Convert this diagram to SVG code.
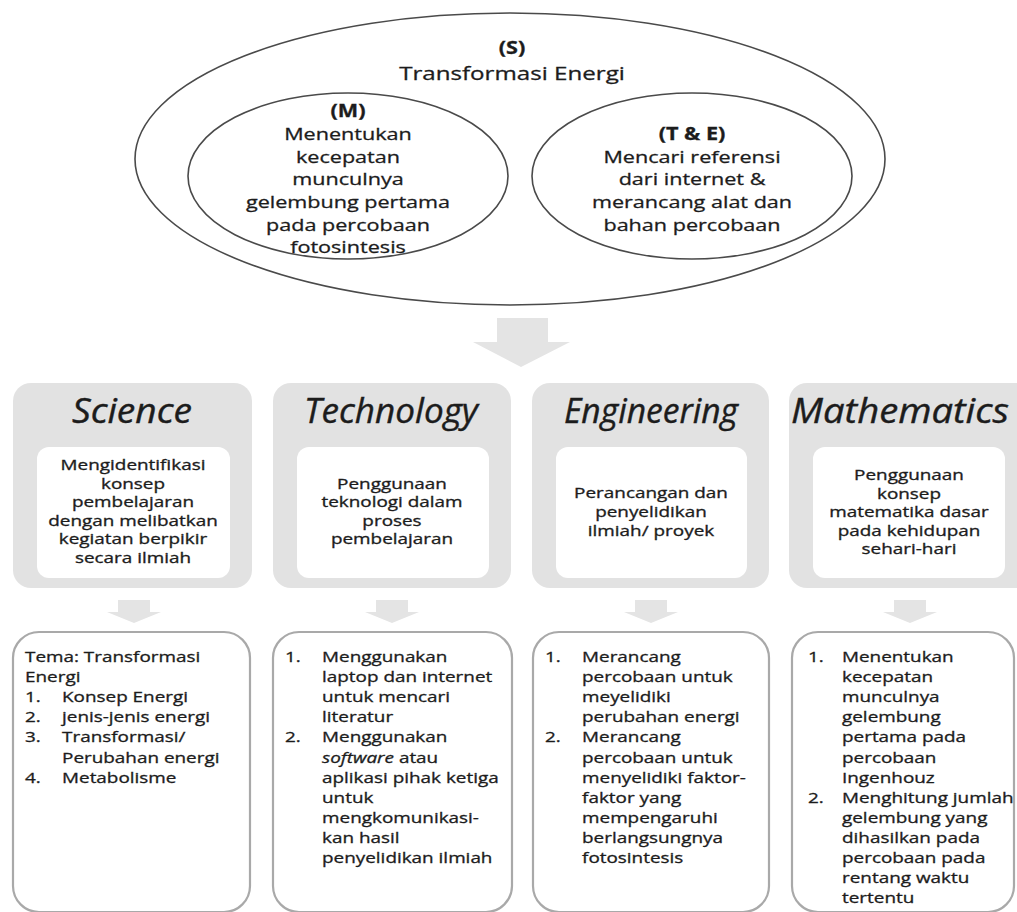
<svg xmlns="http://www.w3.org/2000/svg" width="1017" height="912" viewBox="0 0 1017 912">
  <defs>
    <style>
      .t { font-family: "Open Sans", "Liberation Sans", sans-serif; fill: #1c1c1c; stroke: #1c1c1c; stroke-width: 0.3; }
      .c { text-anchor: middle; }
      .b { font-weight: bold; }
      .top { font-size: 17px; }
      .big { font-size: 19px; }
      .head { font-size: 34px; font-style: italic; stroke-width: 0.4; }
      .in { font-size: 14px; }
      .li { font-size: 15px; }
      .ring { fill: none; stroke: #4a4a4a; stroke-width: 1.6; }
      .panel { fill: #e2e2e2; }
      .card { fill: #ffffff; }
      .list { fill: #ffffff; stroke: #a9a9a9; stroke-width: 2.2; }
      .arrow { fill: #e4e4e4; }
    </style>
  </defs>

  <rect width="1017" height="912" fill="#ffffff"/>

  <!-- Venn of the STEM focus -->
  <g id="node-s">
    <ellipse class="ring" cx="510" cy="159" rx="375" ry="146"/>
    <g transform="translate(512,0) scale(1.27,1)">
      <text class="t top b c" x="0" y="54">(S)</text>
      <text class="t big c" x="0" y="80">Transformasi Energi</text>
    </g>
  </g>

  <g id="node-m">
    <ellipse class="ring" cx="348" cy="176" rx="160" ry="83"/>
    <g transform="translate(348,0) scale(1.27,1)">
      <text class="t top b c" x="0" y="117">(M)</text>
      <text class="t top c" x="0" y="140">Menentukan</text>
      <text class="t top c" x="0" y="163">kecepatan</text>
      <text class="t top c" x="0" y="185">munculnya</text>
      <text class="t top c" x="0" y="208">gelembung pertama</text>
      <text class="t top c" x="0" y="231">pada percobaan</text>
      <text class="t top c" x="0" y="253">fotosintesis</text>
    </g>
  </g>

  <g id="node-te">
    <ellipse class="ring" cx="692" cy="176" rx="160" ry="83"/>
    <g transform="translate(692,0) scale(1.27,1)">
      <text class="t top b c" x="0" y="140">(T &amp; E)</text>
      <text class="t top c" x="0" y="163">Mencari referensi</text>
      <text class="t top c" x="0" y="185">dari internet &amp;</text>
      <text class="t top c" x="0" y="208">merancang alat dan</text>
      <text class="t top c" x="0" y="231">bahan percobaan</text>
    </g>
  </g>

  <!-- block arrows -->
  <g id="connectors">
    <polygon class="arrow" points="497,318 548,318 548,342 570,342 521,367 473,342 497,342"/>
    <polygon class="arrow" points="118,600 150,600 150,612 161,612 134,623 107,612 118,612"/>
    <polygon class="arrow" points="376,600 408,600 408,612 419,612 392,623 365,612 376,612"/>
    <polygon class="arrow" points="635,600 667,600 667,612 678,612 651,623 624,612 635,612"/>
    <polygon class="arrow" points="894,600 926,600 926,612 937,612 910,623 883,612 894,612"/>
  </g>

  <!-- Science -->
  <g id="node-science">
    <rect class="panel" x="13" y="383" width="239" height="205" rx="18"/>
    <text class="t head c" x="132" y="423" textLength="120" lengthAdjust="spacingAndGlyphs">Science</text>
    <rect class="card" x="37" y="447" width="193" height="131" rx="12"/>
    <g transform="translate(133,0) scale(1.35,1)">
      <text class="t in c" x="0" y="470">Mengidentifikasi</text>
      <text class="t in c" x="0" y="488.6">konsep</text>
      <text class="t in c" x="0" y="507.2">pembelajaran</text>
      <text class="t in c" x="0" y="525.8">dengan melibatkan</text>
      <text class="t in c" x="0" y="544.4">kegiatan berpikir</text>
      <text class="t in c" x="0" y="563">secara ilmiah</text>
    </g>
  </g>

  <!-- Technology -->
  <g id="node-technology">
    <rect class="panel" x="273" y="383" width="238" height="205" rx="18"/>
    <text class="t head c" x="391" y="423" textLength="174" lengthAdjust="spacingAndGlyphs">Technology</text>
    <rect class="card" x="297" y="447" width="192" height="131" rx="12"/>
    <g transform="translate(392,0) scale(1.35,1)">
      <text class="t in c" x="0" y="489">Penggunaan</text>
      <text class="t in c" x="0" y="507.5">teknologi dalam</text>
      <text class="t in c" x="0" y="526">proses</text>
      <text class="t in c" x="0" y="544.5">pembelajaran</text>
    </g>
  </g>

  <!-- Engineering -->
  <g id="node-engineering">
    <rect class="panel" x="532" y="383" width="237" height="205" rx="18"/>
    <text class="t head c" x="651" y="423" textLength="174" lengthAdjust="spacingAndGlyphs">Engineering</text>
    <rect class="card" x="556" y="447" width="191" height="131" rx="12"/>
    <g transform="translate(651,0) scale(1.35,1)">
      <text class="t in c" x="0" y="498">Perancangan dan</text>
      <text class="t in c" x="0" y="517">penyelidikan</text>
      <text class="t in c" x="0" y="536">ilmiah/ proyek</text>
    </g>
  </g>

  <!-- Mathematics -->
  <g id="node-mathematics">
    <rect class="panel" x="789" y="383" width="245" height="205" rx="18"/>
    <text class="t head c" x="900" y="423" textLength="218" lengthAdjust="spacingAndGlyphs">Mathematics</text>
    <rect class="card" x="813" y="447" width="192" height="131" rx="12"/>
    <g transform="translate(909,0) scale(1.35,1)">
      <text class="t in c" x="0" y="480">Penggunaan</text>
      <text class="t in c" x="0" y="498.6">konsep</text>
      <text class="t in c" x="0" y="517.2">matematika dasar</text>
      <text class="t in c" x="0" y="535.8">pada kehidupan</text>
      <text class="t in c" x="0" y="554.4">sehari-hari</text>
    </g>
  </g>

  <!-- detail lists -->
  <g id="node-science-list">
    <rect class="list" x="13" y="632" width="237" height="280" rx="26"/>
    <g transform="translate(25,0) scale(1.26,1)">
      <text class="t li" x="0" y="662">Tema: Transformasi</text>
      <text class="t li" x="0" y="682">Energi</text>
      <text class="t li" x="0" y="702">1.</text><text class="t li" x="29.4" y="702">Konsep Energi</text>
      <text class="t li" x="0" y="722">2.</text><text class="t li" x="29.4" y="722">jenis-jenis energi</text>
      <text class="t li" x="0" y="742">3.</text><text class="t li" x="29.4" y="742">Transformasi/</text>
      <text class="t li" x="29.4" y="763">Perubahan energi</text>
      <text class="t li" x="0" y="783">4.</text><text class="t li" x="29.4" y="783">Metabolisme</text>
    </g>
  </g>

  <g id="node-technology-list">
    <rect class="list" x="273" y="632" width="239" height="280" rx="26"/>
    <g transform="translate(285,0) scale(1.26,1)">
      <text class="t li" x="0" y="662">1.</text><text class="t li" x="29.4" y="662">Menggunakan</text>
      <text class="t li" x="29.4" y="682">laptop dan internet</text>
      <text class="t li" x="29.4" y="702">untuk mencari</text>
      <text class="t li" x="29.4" y="722">literatur</text>
      <text class="t li" x="0" y="742">2.</text><text class="t li" x="29.4" y="742">Menggunakan</text>
      <text class="t li" x="29.4" y="763"><tspan font-style="italic">software</tspan> atau</text>
      <text class="t li" x="29.4" y="783">aplikasi pihak ketiga</text>
      <text class="t li" x="29.4" y="803">untuk</text>
      <text class="t li" x="29.4" y="823">mengkomunikasi-</text>
      <text class="t li" x="29.4" y="843">kan hasil</text>
      <text class="t li" x="29.4" y="863">penyelidikan ilmiah</text>
    </g>
  </g>

  <g id="node-engineering-list">
    <rect class="list" x="533" y="632" width="236" height="280" rx="26"/>
    <g transform="translate(545,0) scale(1.26,1)">
      <text class="t li" x="0" y="662">1.</text><text class="t li" x="29.4" y="662">Merancang</text>
      <text class="t li" x="29.4" y="682">percobaan untuk</text>
      <text class="t li" x="29.4" y="702">meyelidiki</text>
      <text class="t li" x="29.4" y="722">perubahan energi</text>
      <text class="t li" x="0" y="742">2.</text><text class="t li" x="29.4" y="742">Merancang</text>
      <text class="t li" x="29.4" y="763">percobaan untuk</text>
      <text class="t li" x="29.4" y="783">menyelidiki faktor-</text>
      <text class="t li" x="29.4" y="803">faktor yang</text>
      <text class="t li" x="29.4" y="823">mempengaruhi</text>
      <text class="t li" x="29.4" y="843">berlangsungnya</text>
      <text class="t li" x="29.4" y="863">fotosintesis</text>
    </g>
  </g>

  <g id="node-mathematics-list">
    <rect class="list" x="792" y="632" width="222" height="280" rx="26"/>
    <g transform="translate(808,0) scale(1.26,1)">
      <text class="t li" x="0" y="662">1.</text><text class="t li" x="27" y="662">Menentukan</text>
      <text class="t li" x="27" y="682">kecepatan</text>
      <text class="t li" x="27" y="702">munculnya</text>
      <text class="t li" x="27" y="722">gelembung</text>
      <text class="t li" x="27" y="742">pertama pada</text>
      <text class="t li" x="27" y="763">percobaan</text>
      <text class="t li" x="27" y="783">Ingenhouz</text>
      <text class="t li" x="0" y="803">2.</text><text class="t li" x="27" y="803">Menghitung jumlah</text>
      <text class="t li" x="27" y="823">gelembung yang</text>
      <text class="t li" x="27" y="843">dihasilkan pada</text>
      <text class="t li" x="27" y="863">percobaan pada</text>
      <text class="t li" x="27" y="883">rentang waktu</text>
      <text class="t li" x="27" y="903">tertentu</text>
    </g>
  </g>
</svg>
